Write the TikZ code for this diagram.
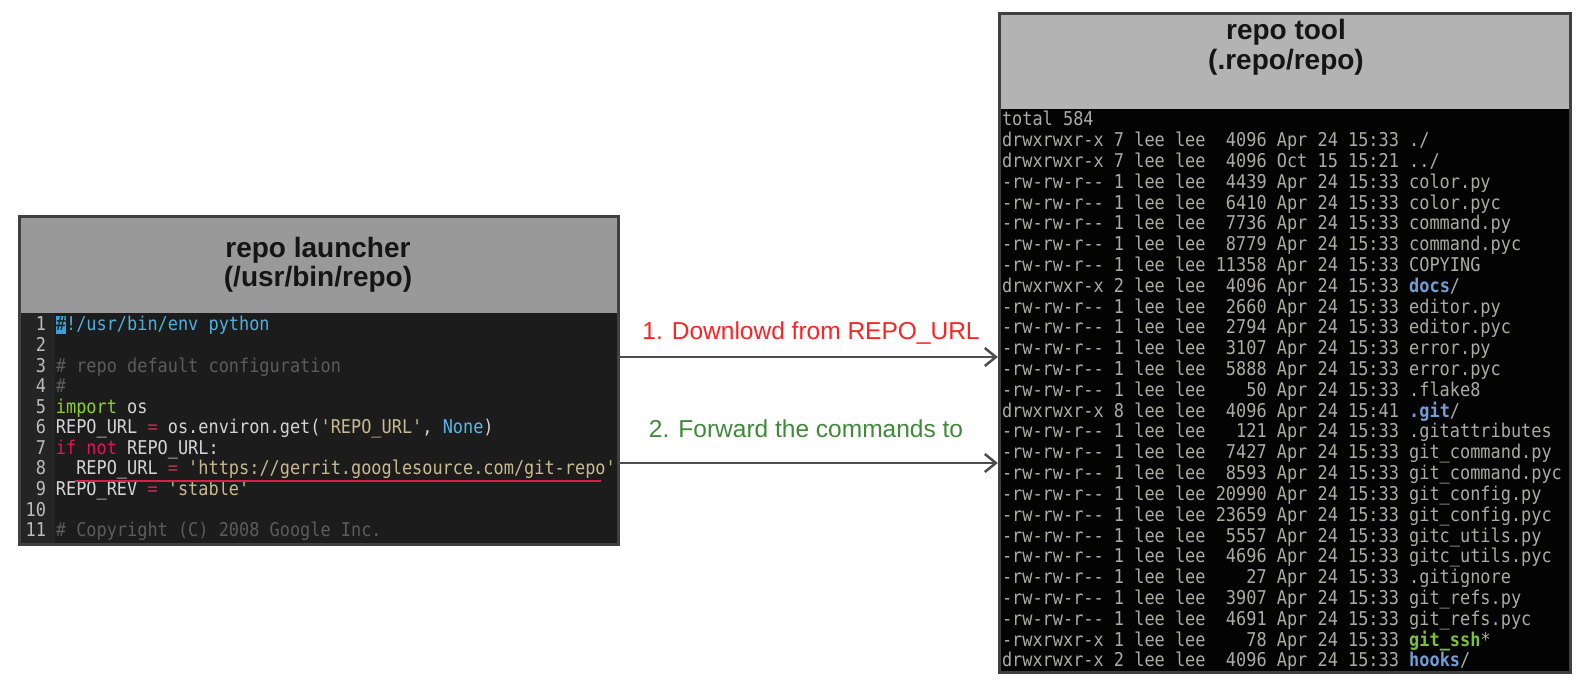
\documentclass[tikz,border=0pt]{standalone}
\usepackage{fontspec}
\setmainfont{Liberation Sans}
\setmonofont{DejaVu Sans Mono}[FakeStretch=0.89]
\usetikzlibrary{arrows.meta,fit}
\definecolor{codebg}{HTML}{1C1C1C}
\definecolor{gutterc}{HTML}{242424}
\definecolor{hdrL}{HTML}{999999}
\definecolor{hdrR}{HTML}{B3B3B3}
\definecolor{bordc}{HTML}{404040}
\definecolor{arrc}{HTML}{4D4D4D}
\definecolor{lsbg}{HTML}{030303}
\definecolor{lsfg}{HTML}{ABABA4}
\definecolor{dirc}{HTML}{6F9FD8}
\definecolor{exec}{HTML}{7CC13A}
\definecolor{codefg}{HTML}{D4D4D4}
\definecolor{comm}{HTML}{5C5C5C}
\definecolor{kwimp}{HTML}{8BD12F}
\definecolor{kwif}{HTML}{D6195A}
\definecolor{eqc}{HTML}{B8304F}
\definecolor{strc}{HTML}{C8B98E}
\definecolor{nonec}{HTML}{5DB7E5}
\definecolor{shebang}{HTML}{4FB0DC}
\definecolor{cursor}{HTML}{3E9FDB}
\definecolor{lnumc}{HTML}{BDBDBD}
\definecolor{ulc}{HTML}{DC1E4B}
\definecolor{labred}{HTML}{FF2222}
\definecolor{labgreen}{HTML}{3E8A38}
\definecolor{titlec}{HTML}{151515}
\newlength\cw
\newcommand\mono{\ttfamily\fontsize{19}{20}\selectfont\setlength\cw{\fontcharwd\font`0}\spaceskip=\cw\relax\xspaceskip=\cw\relax\frenchspacing}
\newcommand\lsl[5]{#1\ #2\ lee\ lee\ \makebox[5\cw][r]{#3}\ #4\ #5}
\newcommand\dirn[1]{{\bfseries\color{dirc}#1}}
\newcommand\exen[1]{{\bfseries\color{exec}#1}}
\tikzset{
  codeline/.style={anchor=base west, inner sep=0pt, outer sep=0pt, font=\mono, text=codefg},
  lsline/.style={anchor=base west, inner sep=0pt, outer sep=0pt, font=\mono, text=lsfg},
  lnum/.style={anchor=base east, inner sep=0pt, outer sep=0pt, font=\mono, text=lnumc},
  title/.style={anchor=base, inner sep=0pt, font=\bfseries\fontsize{28}{30}\selectfont, text=titlec},
  lab/.style={anchor=base, inner sep=0pt, font=\fontsize{24.5}{28}\selectfont},
  panel/.style={draw=bordc, line width=3pt, inner sep=0pt, outer sep=0pt},
  area/.style={inner sep=0pt, outer sep=0pt, anchor=north west},
  arr/.style={draw=arrc, line width=2.5pt, shorten >=1.5pt, -{Straight Barb[length=11pt,width=18pt]}},
}
\begin{document}
\begin{tikzpicture}[x=1pt,y=-1pt]
\useasboundingbox (0,0) rectangle (1588,684);
% ---------- left panel ----------
\node[area, fill=hdrL, minimum width=598.7pt, minimum height=96.6pt] (LH) at (19.3,216.7) {};
\node[area, fill=codebg, minimum width=598.7pt, minimum height=231.2pt] (LB) at (19.3,313.3) {};
\fill[gutterc] (19.3,313.3) rectangle (54.5,544.5);
\node[title] (lt1) at (318,258) {repo launcher};
\node[title] (lt2) at (318,287) {(/usr/bin/repo)};
\foreach \i in {1,...,11}{
  \node[lnum] (n\i) at (46,{331+20.57*(\i-1)}) {\i};
}
\node[codeline] (c1) at (55.9,331) {{\setlength\fboxsep{0pt}\colorbox{cursor}{\rule[-3pt]{0pt}{18pt}\textcolor{codebg}{\#}}}\textcolor{shebang}{!/usr/bin/env python}};
\node[codeline] (c3) at (55.9,{331+20.57*2}) {\textcolor{comm}{\# repo default configuration}};
\node[codeline] (c4) at (55.9,{331+20.57*3}) {\textcolor{comm}{\#}};
\node[codeline] (c5) at (55.9,{331+20.57*4}) {\textcolor{kwimp}{import} os};
\node[codeline] (c6) at (55.9,{331+20.57*5}) {REPO\_URL \textcolor{eqc}{=} os.environ.get(\textcolor{strc}{'REPO\_URL'}, \textcolor{nonec}{None})};
\node[codeline] (c7) at (55.9,{331+20.57*6}) {\textcolor{kwif}{if not} REPO\_URL:};
\node[codeline] (c8) at (55.9,{331+20.57*7}) {\ \ REPO\_URL \textcolor{eqc}{=} \textcolor{strc}{'https://gerrit.googlesource.com/git-repo'}};
\node[codeline] (c9) at (55.9,{331+20.57*8}) {REPO\_REV \textcolor{eqc}{=} \textcolor{strc}{'stable'}};
\node[codeline] (c11) at (55.9,{331+20.57*10}) {\textcolor{comm}{\# Copyright (C) 2008 Google Inc.}};
\draw[ulc, line width=2.5pt] (75,481) -- (601,481);
\node[panel, fit=(LH)(LB)] (L) {};
% ---------- right panel ----------
\node[area, fill=hdrR, minimum width=571.2pt, minimum height=95.3pt] (RH) at (999.3,14) {};
\node[area, fill=lsbg, minimum width=571.2pt, minimum height=563.2pt] (RB) at (999.3,109.3) {};
\node[title] (rt1) at (1286,40) {repo tool};
\node[title] (rt2) at (1286,70) {(.repo/repo)};
\node[lsline] (r0) at (1002,126) {total 584};
\node[lsline] (r1) at (1002,{126+20.8*1}) {\lsl{drwxrwxr-x}{7}{4096}{Apr 24 15:33}{./}};
\node[lsline] (r2) at (1002,{126+20.8*2}) {\lsl{drwxrwxr-x}{7}{4096}{Oct 15 15:21}{../}};
\node[lsline] (r3) at (1002,{126+20.8*3}) {\lsl{-rw-rw-r--}{1}{4439}{Apr 24 15:33}{color.py}};
\node[lsline] (r4) at (1002,{126+20.8*4}) {\lsl{-rw-rw-r--}{1}{6410}{Apr 24 15:33}{color.pyc}};
\node[lsline] (r5) at (1002,{126+20.8*5}) {\lsl{-rw-rw-r--}{1}{7736}{Apr 24 15:33}{command.py}};
\node[lsline] (r6) at (1002,{126+20.8*6}) {\lsl{-rw-rw-r--}{1}{8779}{Apr 24 15:33}{command.pyc}};
\node[lsline] (r7) at (1002,{126+20.8*7}) {\lsl{-rw-rw-r--}{1}{11358}{Apr 24 15:33}{COPYING}};
\node[lsline] (r8) at (1002,{126+20.8*8}) {\lsl{drwxrwxr-x}{2}{4096}{Apr 24 15:33}{\dirn{docs}/}};
\node[lsline] (r9) at (1002,{126+20.8*9}) {\lsl{-rw-rw-r--}{1}{2660}{Apr 24 15:33}{editor.py}};
\node[lsline] (r10) at (1002,{126+20.8*10}) {\lsl{-rw-rw-r--}{1}{2794}{Apr 24 15:33}{editor.pyc}};
\node[lsline] (r11) at (1002,{126+20.8*11}) {\lsl{-rw-rw-r--}{1}{3107}{Apr 24 15:33}{error.py}};
\node[lsline] (r12) at (1002,{126+20.8*12}) {\lsl{-rw-rw-r--}{1}{5888}{Apr 24 15:33}{error.pyc}};
\node[lsline] (r13) at (1002,{126+20.8*13}) {\lsl{-rw-rw-r--}{1}{50}{Apr 24 15:33}{.flake8}};
\node[lsline] (r14) at (1002,{126+20.8*14}) {\lsl{drwxrwxr-x}{8}{4096}{Apr 24 15:41}{\dirn{.git}/}};
\node[lsline] (r15) at (1002,{126+20.8*15}) {\lsl{-rw-rw-r--}{1}{121}{Apr 24 15:33}{.gitattributes}};
\node[lsline] (r16) at (1002,{126+20.8*16}) {\lsl{-rw-rw-r--}{1}{7427}{Apr 24 15:33}{git\_command.py}};
\node[lsline] (r17) at (1002,{126+20.8*17}) {\lsl{-rw-rw-r--}{1}{8593}{Apr 24 15:33}{git\_command.pyc}};
\node[lsline] (r18) at (1002,{126+20.8*18}) {\lsl{-rw-rw-r--}{1}{20990}{Apr 24 15:33}{git\_config.py}};
\node[lsline] (r19) at (1002,{126+20.8*19}) {\lsl{-rw-rw-r--}{1}{23659}{Apr 24 15:33}{git\_config.pyc}};
\node[lsline] (r20) at (1002,{126+20.8*20}) {\lsl{-rw-rw-r--}{1}{5557}{Apr 24 15:33}{gitc\_utils.py}};
\node[lsline] (r21) at (1002,{126+20.8*21}) {\lsl{-rw-rw-r--}{1}{4696}{Apr 24 15:33}{gitc\_utils.pyc}};
\node[lsline] (r22) at (1002,{126+20.8*22}) {\lsl{-rw-rw-r--}{1}{27}{Apr 24 15:33}{.gitignore}};
\node[lsline] (r23) at (1002,{126+20.8*23}) {\lsl{-rw-rw-r--}{1}{3907}{Apr 24 15:33}{git\_refs.py}};
\node[lsline] (r24) at (1002,{126+20.8*24}) {\lsl{-rw-rw-r--}{1}{4691}{Apr 24 15:33}{git\_refs.pyc}};
\node[lsline] (r25) at (1002,{126+20.8*25}) {\lsl{-rwxrwxr-x}{1}{78}{Apr 24 15:33}{\exen{git\_ssh}*}};
\node[lsline] (r26) at (1002,{126+20.8*26}) {\lsl{drwxrwxr-x}{2}{4096}{Apr 24 15:33}{\dirn{hooks}/}};
\node[panel, fit=(RH)(RB)] (R) {};
% ---------- connectors ----------
\coordinate (y1) at (0,357);
\coordinate (y2) at (0,463);
\draw[arr] (L.east |- y1) -- (R.west |- y1);
\draw[arr] (L.east |- y2) -- (R.west |- y2);
\node[lab, text=labred] (la1) at (811,340) {1. Downlowd from REPO\_URL};
\node[lab, text=labgreen] (la2) at (806,438) {2. Forward the commands to};
\end{tikzpicture}
\end{document}
